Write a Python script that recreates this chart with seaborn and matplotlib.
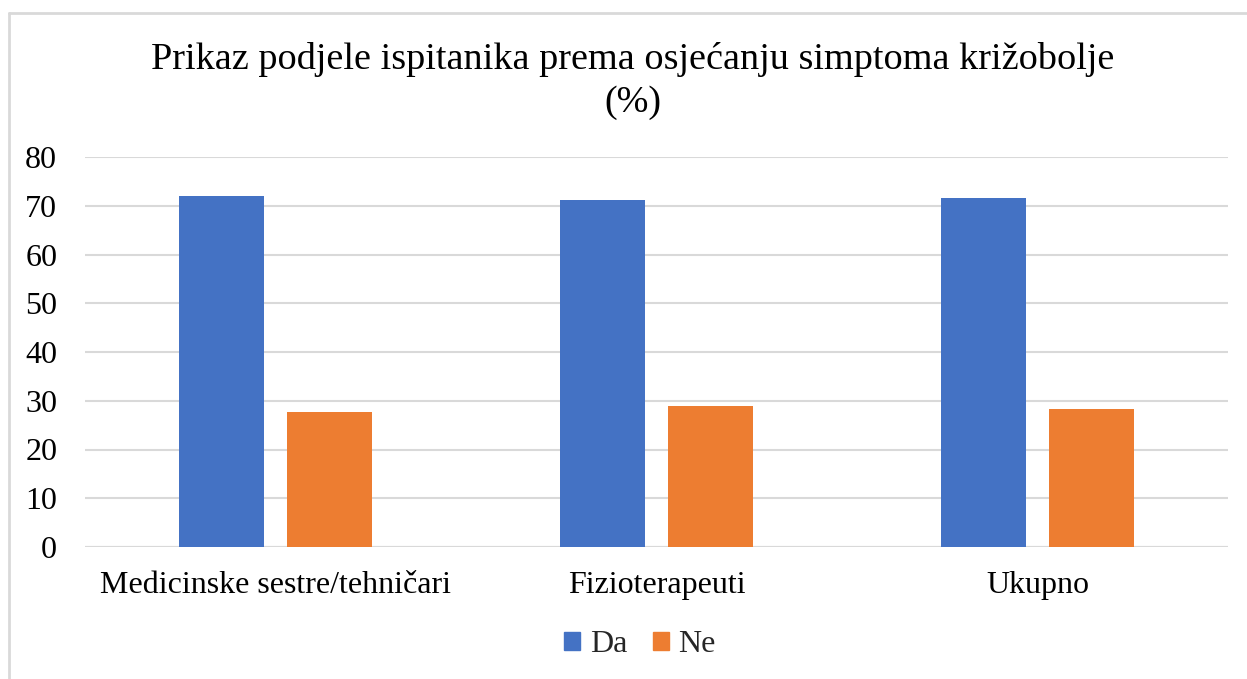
import matplotlib
matplotlib.use("Agg")
import matplotlib.pyplot as plt
import seaborn as sns
import pandas as pd
from matplotlib.lines import Line2D

categories = ["Medicinske sestre/tehničari", "Fizioterapeuti", "Ukupno"]
series_names = ["Da", "Ne"]
da_values = [72.1, 71.1, 71.6]
ne_values = [27.6, 28.9, 28.4]
yticks = [0, 10, 20, 30, 40, 50, 60, 70, 80]
title = "Prikaz podjele ispitanika prema osjećanju simptoma križobolje\n(%)"
colors = ["#4472C4", "#ED7D31"]

df = pd.DataFrame({
    "Kategorija": categories * 2,
    "Odgovor": [series_names[0]] * 3 + [series_names[1]] * 3,
    "Vrijednost": da_values + ne_values,
})

sns.set_theme(style="white")
plt.rcParams["font.family"] = ["Liberation Serif", "DejaVu Serif"]

W, H = 1247, 679
fig = plt.figure(figsize=(W / 100, H / 100), dpi=100)
ax = fig.add_axes([85 / W, (H - 547) / H, (1228 - 85) / W, (547 - 157) / H])

sns.barplot(data=df, x="Kategorija", y="Vrijednost", hue="Odgovor",
            palette=colors, width=0.572, gap=0.22, ax=ax, legend=False,
            saturation=1, linewidth=0)

ax.set_ylim(0, 80)
ax.set_yticks(yticks)
ax.set_xlim(-0.5, 2.5)
ax.yaxis.grid(True, color="#D9D9D9", linewidth=1.5)
ax.set_axisbelow(True)
for s in ax.spines.values():
    s.set_visible(False)
ax.axhline(0, color="#D9D9D9", linewidth=1.5, zorder=0.5)
ax.set_xlabel("")
ax.set_ylabel("")
ax.tick_params(axis="y", labelsize=23, pad=20, length=0, labelcolor="#000000")
ax.tick_params(axis="x", labelsize=23, pad=17, length=0, labelcolor="#000000")

fig.text(633 / W, 1 - 81 / H, title, ha="center", va="center", fontsize=27.5,
         linespacing=1.3, color="#000000")

handles = [plt.Rectangle((0, 0), 1, 1, color=c) for c in colors]
fig.legend(handles, series_names, loc="center", bbox_to_anchor=(640 / W, 1 - 645 / H),
           ncol=2, frameon=False, fontsize=23, handlelength=0.5, handleheight=0.5,
           handletextpad=0.3, columnspacing=0.8)

# outer chart frame (left and top edges visible)
fig.add_artist(Line2D([9 / W, 9 / W], [0, 1 - 13 / H], color="#D9D9D9", linewidth=2,
                      transform=fig.transFigure))
fig.add_artist(Line2D([9 / W, 1], [1 - 13 / H, 1 - 13 / H], color="#D9D9D9", linewidth=2,
                      transform=fig.transFigure))

fig.savefig("out.png", dpi=100, facecolor="white")
